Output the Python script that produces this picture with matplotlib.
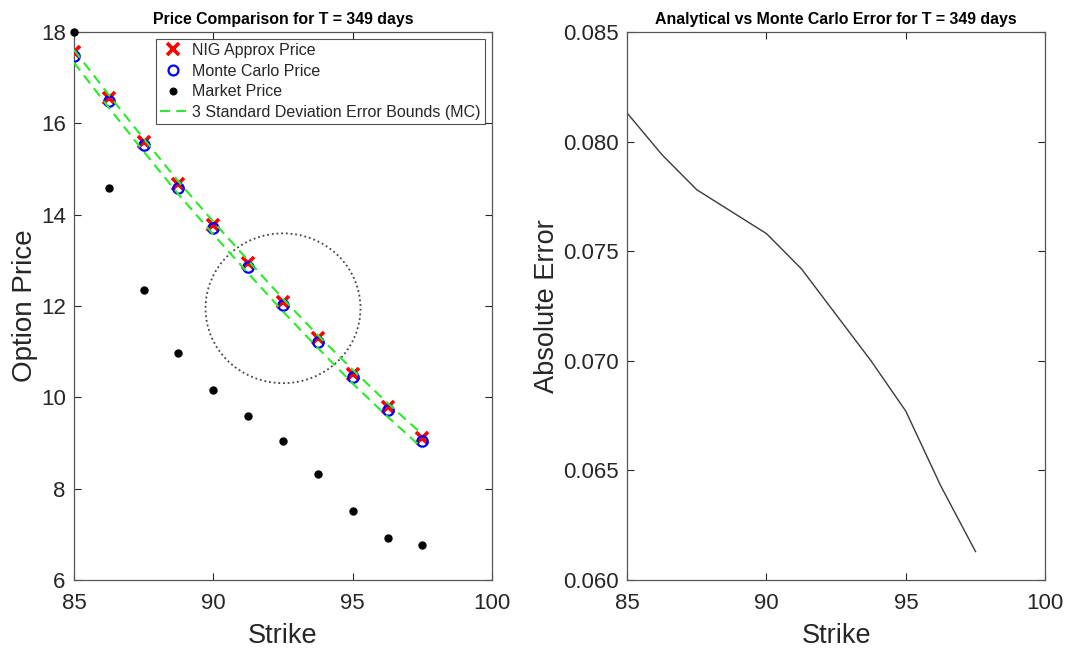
import numpy as np
import matplotlib
matplotlib.use("Agg")
import matplotlib.pyplot as plt
from matplotlib.patches import Ellipse

plt.rcParams['font.family'] = ['Liberation Sans', 'DejaVu Sans']

# Option data for T = 349 days
strikes = [85.0, 86.25, 87.5, 88.75, 90.0, 91.25, 92.5, 93.75, 95.0, 96.25, 97.5]
nig_price = [17.55, 16.56, 15.60, 14.66, 13.78, 12.93, 12.09, 11.29, 10.52, 9.79, 9.10]
abs_error = [0.0813, 0.0794, 0.0778, 0.0768, 0.0758, 0.0742, 0.0721, 0.0700, 0.0677, 0.0643, 0.0613]
market_price = [18.00, 14.59, 12.35, 10.96, 10.15, 9.60, 9.05, 8.32, 7.51, 6.92, 6.76]
mc_three_sd = [0.14, 0.14, 0.14, 0.14, 0.14, 0.14, 0.14, 0.14, 0.15, 0.15, 0.15]

strikes = np.array(strikes)
nig_price = np.array(nig_price)
abs_error = np.array(abs_error)
mc_price = nig_price - abs_error
mc_three_sd = np.array(mc_three_sd)

title_T = 349
axis_col = '#262626'
green = '#2aea2a'

fig = plt.figure(figsize=(10.72, 6.51), dpi=100)
ax1 = fig.add_axes([0.069, 0.109, 0.390, 0.842])
ax2 = fig.add_axes([0.585, 0.109, 0.390, 0.842])

# Left: price comparison
ax1.plot(strikes, nig_price, 'x', color='red', ms=8.5, mew=2.6, zorder=3,
         label='NIG Approx Price')
ax1.plot(strikes, mc_price, 'o', color='blue', mfc='none', ms=7.5, mew=1.6, zorder=4,
         label='Monte Carlo Price')
ax1.plot(strikes, market_price, 'o', color='black', ms=5, zorder=4, clip_on=False,
         label='Market Price')
ax1.plot(strikes, mc_price + mc_three_sd, '--', color=green, lw=1.5,
         dashes=(4.8, 3), zorder=5, label='3 Standard Deviation Error Bounds (MC)')
ax1.plot(strikes, mc_price - mc_three_sd, '--', color=green, lw=1.5,
         dashes=(4.8, 3), zorder=5)

ax1.add_patch(Ellipse((92.5, 11.95), 5.56, 3.28, fill=False, ls=(0, (1, 1.6)),
                      lw=1.3, edgecolor='#444444', zorder=2))

ax1.set_xlim(85, 100)
ax1.set_ylim(6, 18)
ax1.set_xticks([85, 90, 95, 100])
ax1.set_yticks([6, 8, 10, 12, 14, 16, 18])
ax1.set_xlabel('Strike', fontsize=19.5, color=axis_col, labelpad=7)
ax1.set_ylabel('Option Price', fontsize=20, color=axis_col, labelpad=2)
ax1.set_title(f'Price Comparison for T = {title_T} days', fontsize=11.4,
              fontweight='bold', pad=6)
leg = ax1.legend(loc='upper right', fontsize=11.5, frameon=True, fancybox=False,
                 edgecolor=axis_col, borderaxespad=0.45, handlelength=1.6,
                 handletextpad=0.4, borderpad=0.25, labelspacing=0.35,
                 labelcolor=axis_col, markerscale=0.95)
leg.get_frame().set_linewidth(0.8)

# Right: absolute error
ax2.plot(strikes, abs_error, '-', color='#3a3a3a', lw=1.0)
ax2.set_xlim(85, 100)
ax2.set_ylim(0.060, 0.085)
ax2.set_xticks([85, 90, 95, 100])
ax2.set_yticks([0.060, 0.065, 0.070, 0.075, 0.080, 0.085])
ax2.set_yticklabels([f'{v:.3f}' for v in [0.060, 0.065, 0.070, 0.075, 0.080, 0.085]])
ax2.set_xlabel('Strike', fontsize=19.5, color=axis_col, labelpad=7)
ax2.set_ylabel('Absolute Error', fontsize=19.5, color=axis_col, labelpad=2)
ax2.set_title(f'Analytical vs Monte Carlo Error for T = {title_T} days', fontsize=11.4,
              fontweight='bold', pad=6)

for ax in (ax1, ax2):
    ax.tick_params(direction='in', top=True, right=True, length=5, width=0.8,
                   labelsize=16, colors=axis_col)
    ax.tick_params(axis='x', pad=9)
    ax.tick_params(axis='y', pad=6)
    for s in ax.spines.values():
        s.set_color('#555555')
        s.set_linewidth(0.9)

fig.savefig('out.png', dpi=100)
